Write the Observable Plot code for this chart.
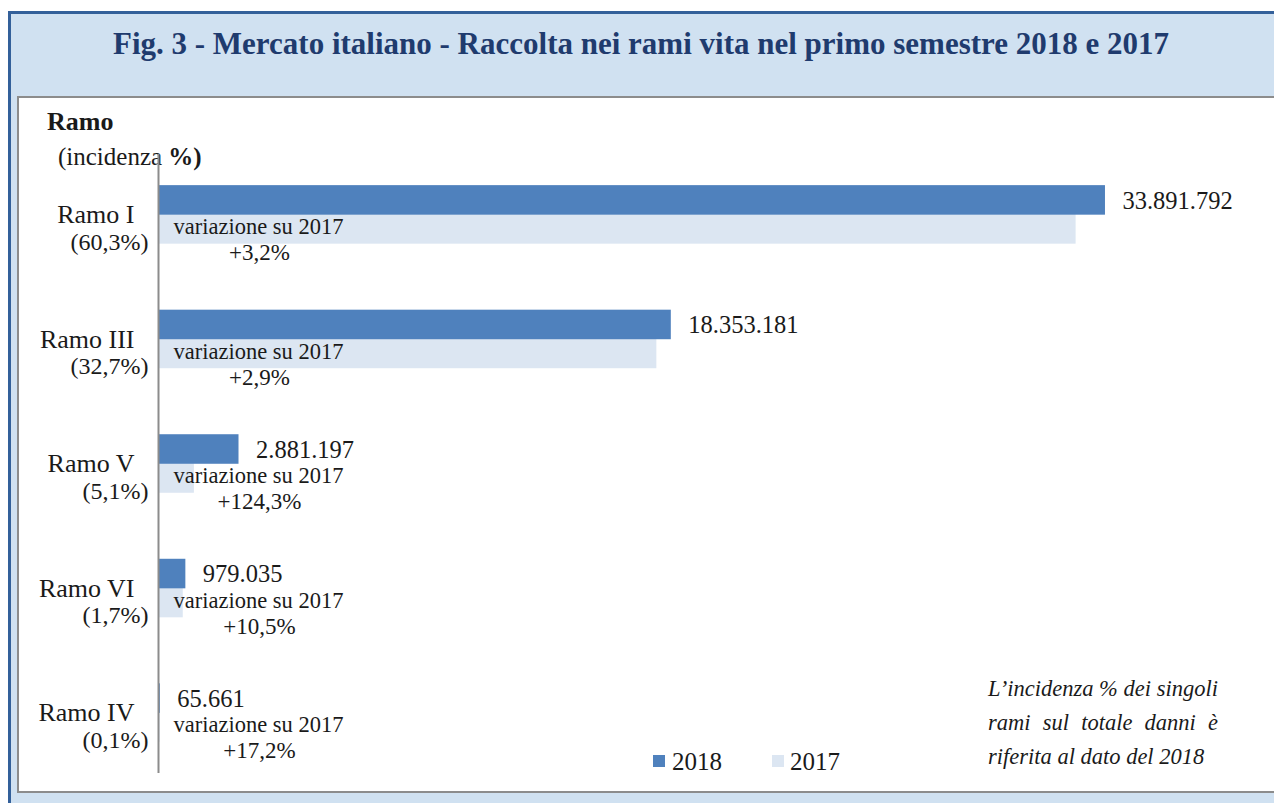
<!DOCTYPE html>
<html><head><meta charset="utf-8">
<script src="https://cdn.jsdelivr.net/npm/d3@7"></script>
<script src="https://cdn.jsdelivr.net/npm/@observablehq/plot@0.6"></script>
<style>
html,body{margin:0;padding:0}
body{width:1274px;height:803px;overflow:hidden;background:#fff;position:relative;font-family:"Liberation Serif",serif;color:#1a1a1a}
#frame{position:absolute;left:8px;top:11px;width:1266px;height:792px;background:#d0e1f1;border-left:3px solid #33609a;border-top:3px solid #33609a;box-sizing:border-box}
#panel{position:absolute;left:17px;top:96px;width:1257px;height:697px;background:#fff;border-left:2px solid #8c8c8c;border-top:2px solid #8c8c8c;border-bottom:2px solid #8c8c8c;box-sizing:border-box}
#title{position:absolute;left:8px;width:1266px;top:26px;text-align:center;font-weight:bold;font-size:31px;line-height:36px;color:#1f3b6e;white-space:nowrap}
#chart{position:absolute;left:0;top:0}
.hdr{position:absolute;white-space:nowrap}
.legend{position:absolute;top:747px;font-size:25px;line-height:30px;white-space:nowrap}
.sw{position:absolute;width:12px;height:12px}
#note{position:absolute;left:988px;top:672px;width:230px;font-style:italic;font-size:22.5px;line-height:34px}
#note div{text-align:justify;text-align-last:justify;white-space:nowrap}
#note div.last{text-align-last:left}
</style>
</head><body>
<div id="frame"></div>
<div id="panel"></div>
<div id="title">Fig. 3 - Mercato italiano - Raccolta nei rami vita nel primo semestre 2018 e 2017</div>
<div class="hdr" style="left:47px;top:107px;font-weight:bold;font-size:26px;line-height:30px">Ramo</div>
<div class="hdr" style="left:58px;top:142px;font-size:25px;line-height:30px">(incidenza <b>%)</b></div>
<div id="chart"></div>
<div class="sw" style="left:653px;top:755px;background:#4f81bd"></div>
<div class="legend" style="left:672px">2018</div>
<div class="sw" style="left:772px;top:755px;background:#dce6f2"></div>
<div class="legend" style="left:790px">2017</div>
<div id="note">
<div>L’incidenza % dei singoli</div>
<div>rami sul totale danni è</div>
<div class="last">riferita al dato del 2018</div>
</div>
<script>
const ramo = ["Ramo I", "Ramo III", "Ramo V", "Ramo VI", "Ramo IV"];
const incidenza = ["(60,3%)", "(32,7%)", "(5,1%)", "(1,7%)", "(0,1%)"];
const raccolta2018 = [33891792, 18353181, 2881197, 979035, 65661];
const raccolta2017 = [32841000, 17836000, 1284500, 886000, 56000];
const variazione = ["+3,2%", "+2,9%", "+124,3%", "+10,5%", "+17,2%"];
const variazioneLabel = "variazione su 2017";

const itFmt = d3.formatLocale({decimal: ",", thousands: ".", grouping: [3], currency: ["", "€"]}).format(",d");

const rows = ramo.map((r, i) => ({
  ramo: r, inc: incidenza[i], v18: raccolta2018[i], v17: raccolta2017[i], vr: variazione[i]
}));

const chart = Plot.plot({
  width: 1274,
  height: 803,
  marginLeft: 158,
  marginRight: 26.3,
  marginTop: 154,
  marginBottom: 30,
  style: {fontFamily: "Liberation Serif", fontSize: "22px", color: "#1a1a1a", background: "transparent"},
  x: {domain: [0, 39e6], axis: null},
  y: {domain: ramo, axis: null, paddingInner: 0.53, paddingOuter: 0.25, round: false},
  marks: [
    Plot.barX(rows, {y: "ramo", x: "v17", fill: "#dce6f2", insetTop: 29}),
    Plot.barX(rows, {y: "ramo", x: "v18", fill: "#4f81bd", insetBottom: 29}),
    Plot.ruleX([0], {stroke: "#8c8c8c", strokeWidth: 2}),
    Plot.text(rows, {y: "ramo", x: "v18", text: d => itFmt(d.v18), textAnchor: "start", dx: 17, dy: -14, fontSize: 24.5}),
    Plot.text(rows, {y: "ramo", x: () => 0, text: () => variazioneLabel, textAnchor: "start", dx: 15, dy: 12, fontSize: 22.5}),
    Plot.text(rows, {y: "ramo", x: () => 0, text: "vr", textAnchor: "middle", dx: 101, dy: 38, fontSize: 23}),
    Plot.text(rows, {y: "ramo", x: () => 0, text: "ramo", textAnchor: "end", dx: -24, dy: 0, fontSize: 26}),
    Plot.text(rows, {y: "ramo", x: () => 0, text: "inc", textAnchor: "end", dx: -10, dy: 27, fontSize: 24})
  ]
});
document.getElementById("chart").appendChild(chart);
</script>
</body></html>
